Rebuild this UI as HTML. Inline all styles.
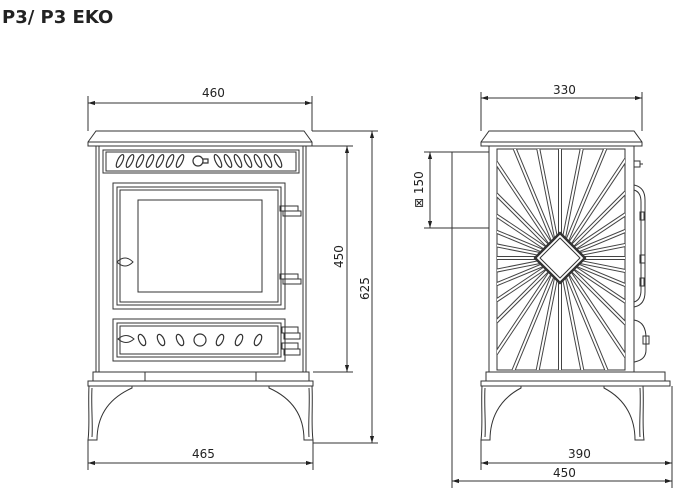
<!DOCTYPE html>
<html><head><meta charset="utf-8"><style>
html,body{margin:0;padding:0;background:#fff;width:680px;height:496px;overflow:hidden}
svg{display:block}
text{font-family:"DejaVu Sans","Liberation Sans",sans-serif;font-size:12px;fill:#222}
</style></head><body>
<svg width="680" height="496" viewBox="0 0 680 496" xmlns="http://www.w3.org/2000/svg">
<text x="2" y="23" style="font-family:'DejaVu Sans','Liberation Sans',sans-serif;font-weight:bold;font-size:18px">P3/ P3 EKO</text>
<defs>
<clipPath id="sb"><rect x="497" y="149" width="128" height="221"/></clipPath>
<marker id="ar" viewBox="0 0 10 10" refX="10" refY="5" markerWidth="7" markerHeight="7" orient="auto-start-reverse"><path d="M0,2 L10,5 L0,8z" fill="#222"/></marker>
<g id="ray"><line x1="560" y1="272" x2="560" y2="90"/></g>
</defs>
<g fill="none" stroke="#333" stroke-width="1">
<!-- FRONT VIEW -->
<path d="M96,131 H304 L312,142 V146 H88 V142 Z" fill="#fff"/>
<line x1="88" y1="142" x2="312" y2="142"/>
<rect x="96" y="146" width="210" height="226"/>
<rect x="99" y="146" width="204" height="226"/>
<rect x="103" y="150" width="196" height="23"/>
<rect x="106" y="152" width="190" height="19"/>
<g stroke-width="1.2">
<ellipse cx="120" cy="161" rx="2.5" ry="7" transform="rotate(25 120 161)"/>
<ellipse cx="130" cy="161" rx="2.5" ry="7" transform="rotate(25 130 161)"/>
<ellipse cx="140" cy="161" rx="2.5" ry="7" transform="rotate(25 140 161)"/>
<ellipse cx="150" cy="161" rx="2.5" ry="7" transform="rotate(25 150 161)"/>
<ellipse cx="160" cy="161" rx="2.5" ry="7" transform="rotate(25 160 161)"/>
<ellipse cx="170" cy="161" rx="2.5" ry="7" transform="rotate(25 170 161)"/>
<ellipse cx="180" cy="161" rx="2.5" ry="7" transform="rotate(25 180 161)"/>
<ellipse cx="218" cy="161" rx="2.5" ry="7" transform="rotate(-25 218 161)"/>
<ellipse cx="228" cy="161" rx="2.5" ry="7" transform="rotate(-25 228 161)"/>
<ellipse cx="238" cy="161" rx="2.5" ry="7" transform="rotate(-25 238 161)"/>
<ellipse cx="248" cy="161" rx="2.5" ry="7" transform="rotate(-25 248 161)"/>
<ellipse cx="258" cy="161" rx="2.5" ry="7" transform="rotate(-25 258 161)"/>
<ellipse cx="268" cy="161" rx="2.5" ry="7" transform="rotate(-25 268 161)"/>
<ellipse cx="278" cy="161" rx="2.5" ry="7" transform="rotate(-25 278 161)"/>
<circle cx="198" cy="161" r="5"/><path d="M203,159 h5 v4 h-5"/>
</g>
<rect x="113" y="183" width="172" height="126"/>
<rect x="117" y="187" width="164" height="118"/>
<rect x="120" y="190" width="158" height="112"/>
<rect x="138" y="200" width="124" height="92"/>
<path d="M117,262 q8,-8 16,0 q-8,8 -16,0z"/>
<rect x="280" y="206" width="18" height="5"/><rect x="283" y="211" width="18" height="5"/>
<rect x="280" y="274" width="18" height="5"/><rect x="283" y="279" width="18" height="5"/>
<rect x="113" y="319" width="172" height="42"/>
<rect x="117" y="323" width="164" height="34"/>
<rect x="120" y="326" width="158" height="28"/>
<path d="M118,339 q8,-7 16,0 q-8,7 -16,0z"/>
<g stroke-width="1.2">
<ellipse cx="142" cy="340" rx="3" ry="6" transform="rotate(-25 142 340)"/>
<ellipse cx="161" cy="340" rx="3" ry="6" transform="rotate(-25 161 340)"/>
<ellipse cx="180" cy="340" rx="3" ry="6" transform="rotate(-25 180 340)"/>
<circle cx="200" cy="340" r="6"/>
<ellipse cx="220" cy="340" rx="3" ry="6" transform="rotate(25 220 340)"/>
<ellipse cx="239" cy="340" rx="3" ry="6" transform="rotate(25 239 340)"/>
<ellipse cx="258" cy="340" rx="3" ry="6" transform="rotate(25 258 340)"/>
</g>
<rect x="282" y="327" width="16" height="6"/><rect x="284" y="333" width="16" height="6"/>
<rect x="282" y="343" width="16" height="6"/><rect x="284" y="349" width="16" height="6"/>
<path d="M93,372 H309 V381 H93 Z"/>
<path d="M88,381 H313 V386 H88 Z"/>
<line x1="145" y1="372" x2="145" y2="381"/><line x1="256" y1="372" x2="256" y2="381"/>
<path d="M89,386 C88,405 90,425 88,440 H97 C97,420 105,400 132,388 V386"/>
<path d="M92,388 C91,405 93,425 92,437"/>
<path d="M312,386 C313,405 311,425 313,440 H304 C304,420 296,400 269,388 V386"/>
<path d="M309,388 C310,405 308,425 309,437"/>
<!-- FRONT DIMS -->
<line x1="88" y1="96" x2="88" y2="131"/><line x1="312" y1="96" x2="312" y2="131"/>
<line x1="88" y1="103" x2="312" y2="103" marker-start="url(#ar)" marker-end="url(#ar)"/>
<line x1="88" y1="440" x2="88" y2="470"/><line x1="313" y1="440" x2="313" y2="470"/>
<line x1="88" y1="463" x2="313" y2="463" marker-start="url(#ar)" marker-end="url(#ar)"/>
<line x1="306" y1="146" x2="353" y2="146"/><line x1="313" y1="372" x2="353" y2="372"/>
<line x1="347" y1="146" x2="347" y2="372" marker-start="url(#ar)" marker-end="url(#ar)"/>
<line x1="312" y1="131" x2="378" y2="131"/><line x1="313" y1="443" x2="378" y2="443"/>
<line x1="372" y1="131" x2="372" y2="443" marker-start="url(#ar)" marker-end="url(#ar)"/>
<!-- SIDE VIEW -->
<path d="M489,131 H634 L642,142 V146 H481 V142 Z" fill="#fff"/>
<line x1="481" y1="142" x2="642" y2="142"/>
<rect x="489" y="146" width="145" height="226"/>
<rect x="497" y="149" width="128" height="221"/>
<g clip-path="url(#sb)">
<g stroke="#444" stroke-width="4">
<use href="#ray" transform="rotate(0 560 258)"/><use href="#ray" transform="rotate(11.25 560 258)"/><use href="#ray" transform="rotate(22.5 560 258)"/><use href="#ray" transform="rotate(33.75 560 258)"/><use href="#ray" transform="rotate(45 560 258)"/><use href="#ray" transform="rotate(56.25 560 258)"/><use href="#ray" transform="rotate(67.5 560 258)"/><use href="#ray" transform="rotate(78.75 560 258)"/><use href="#ray" transform="rotate(90 560 258)"/><use href="#ray" transform="rotate(101.25 560 258)"/><use href="#ray" transform="rotate(112.5 560 258)"/><use href="#ray" transform="rotate(123.75 560 258)"/><use href="#ray" transform="rotate(135 560 258)"/><use href="#ray" transform="rotate(146.25 560 258)"/><use href="#ray" transform="rotate(157.5 560 258)"/><use href="#ray" transform="rotate(168.75 560 258)"/><use href="#ray" transform="rotate(180 560 258)"/><use href="#ray" transform="rotate(191.25 560 258)"/><use href="#ray" transform="rotate(202.5 560 258)"/><use href="#ray" transform="rotate(213.75 560 258)"/><use href="#ray" transform="rotate(225 560 258)"/><use href="#ray" transform="rotate(236.25 560 258)"/><use href="#ray" transform="rotate(247.5 560 258)"/><use href="#ray" transform="rotate(258.75 560 258)"/><use href="#ray" transform="rotate(270 560 258)"/><use href="#ray" transform="rotate(281.25 560 258)"/><use href="#ray" transform="rotate(292.5 560 258)"/><use href="#ray" transform="rotate(303.75 560 258)"/><use href="#ray" transform="rotate(315 560 258)"/><use href="#ray" transform="rotate(326.25 560 258)"/><use href="#ray" transform="rotate(337.5 560 258)"/><use href="#ray" transform="rotate(348.75 560 258)"/>
</g>
<g stroke="#fff" stroke-width="2">
<use href="#ray" transform="rotate(0 560 258)"/><use href="#ray" transform="rotate(11.25 560 258)"/><use href="#ray" transform="rotate(22.5 560 258)"/><use href="#ray" transform="rotate(33.75 560 258)"/><use href="#ray" transform="rotate(45 560 258)"/><use href="#ray" transform="rotate(56.25 560 258)"/><use href="#ray" transform="rotate(67.5 560 258)"/><use href="#ray" transform="rotate(78.75 560 258)"/><use href="#ray" transform="rotate(90 560 258)"/><use href="#ray" transform="rotate(101.25 560 258)"/><use href="#ray" transform="rotate(112.5 560 258)"/><use href="#ray" transform="rotate(123.75 560 258)"/><use href="#ray" transform="rotate(135 560 258)"/><use href="#ray" transform="rotate(146.25 560 258)"/><use href="#ray" transform="rotate(157.5 560 258)"/><use href="#ray" transform="rotate(168.75 560 258)"/><use href="#ray" transform="rotate(180 560 258)"/><use href="#ray" transform="rotate(191.25 560 258)"/><use href="#ray" transform="rotate(202.5 560 258)"/><use href="#ray" transform="rotate(213.75 560 258)"/><use href="#ray" transform="rotate(225 560 258)"/><use href="#ray" transform="rotate(236.25 560 258)"/><use href="#ray" transform="rotate(247.5 560 258)"/><use href="#ray" transform="rotate(258.75 560 258)"/><use href="#ray" transform="rotate(270 560 258)"/><use href="#ray" transform="rotate(281.25 560 258)"/><use href="#ray" transform="rotate(292.5 560 258)"/><use href="#ray" transform="rotate(303.75 560 258)"/><use href="#ray" transform="rotate(315 560 258)"/><use href="#ray" transform="rotate(326.25 560 258)"/><use href="#ray" transform="rotate(337.5 560 258)"/><use href="#ray" transform="rotate(348.75 560 258)"/>
</g>
</g>
<path d="M560,233 L585,258 L560,283 L535,258 Z" fill="#fff" stroke="#333" stroke-width="2.5" stroke-linejoin="round"/>
<path d="M560,238 L580,258 L560,278 L540,258 Z" fill="#fff" stroke="#333" stroke-linejoin="round"/>
<!-- right profile -->
<rect x="634" y="161" width="6" height="6"/><line x1="640" y1="164" x2="643" y2="164"/>
<path d="M634,185 Q645,187 645,200 V292 Q645,305 634,307"/>
<path d="M634,190 Q641,192 641,202 V290 Q641,300 634,302"/>
<rect x="640" y="212" width="4" height="8"/><rect x="640" y="255" width="5" height="8"/><rect x="640" y="278" width="4" height="8"/>
<path d="M634,320 Q646,322 646,338 V350 Q646,360 634,362"/>
<rect x="643" y="336" width="6" height="8"/>
<!-- base -->
<path d="M486,372 H665 V381 H486 Z"/>
<path d="M481,381 H670 V386 H481 Z"/>
<path d="M482,386 C481,405 483,425 481,440 H490 C490,420 498,400 521,388 V386"/>
<path d="M485,388 C484,405 486,425 485,437"/>
<path d="M643,386 C644,405 642,425 644,440 H635 C635,420 627,400 604,388 V386"/>
<path d="M640,388 C641,405 639,425 640,437"/>
<!-- flue -->
<path d="M489,152 H452 V228 H489"/>
<line x1="452" y1="228" x2="452" y2="488"/>
<!-- side dims -->
<line x1="424" y1="152" x2="452" y2="152"/><line x1="424" y1="228" x2="452" y2="228"/>
<line x1="430" y1="152" x2="430" y2="228" marker-start="url(#ar)" marker-end="url(#ar)"/>
<line x1="481" y1="92" x2="481" y2="131"/><line x1="642" y1="92" x2="642" y2="131"/>
<line x1="481" y1="98" x2="642" y2="98" marker-start="url(#ar)" marker-end="url(#ar)"/>
<line x1="481" y1="440" x2="481" y2="470"/><line x1="672" y1="386" x2="672" y2="488"/>
<line x1="481" y1="463" x2="672" y2="463" marker-start="url(#ar)" marker-end="url(#ar)"/>
<line x1="452" y1="481" x2="672" y2="481" marker-start="url(#ar)" marker-end="url(#ar)"/>
</g>
<text x="202" y="97">460</text>
<text x="192" y="458">465</text>
<text x="553" y="94">330</text>
<text x="568" y="458">390</text>
<text x="553" y="477">450</text>
<text transform="translate(343,268) rotate(-90)">450</text>
<text transform="translate(369,300) rotate(-90)">625</text>
<text transform="translate(423,208) rotate(-90)">⊠ 150</text>
</svg>
</body></html>
